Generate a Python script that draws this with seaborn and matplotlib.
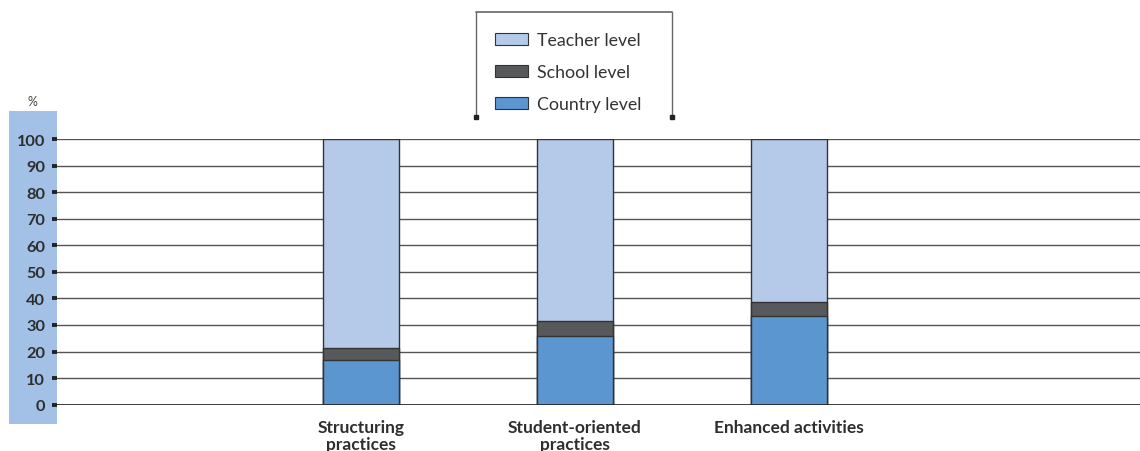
import matplotlib
matplotlib.use("Agg")
import matplotlib.pyplot as plt
from matplotlib.patches import Patch, Rectangle
from matplotlib.lines import Line2D
import seaborn as sns
import pandas as pd

categories = ["Structuring\npractices", "Student-oriented\npractices", "Enhanced activities"]
country_level = [16.8, 25.7, 33.3]
school_level = [4.4, 5.7, 5.2]
teacher_level = [78.8, 68.6, 61.5]
y_ticks = [0, 10, 20, 30, 40, 50, 60, 70, 80, 90, 100]

c_teacher = "#B5CAE8"
c_school = "#58595B"
c_country = "#5B96D0"
c_strip = "#A3C1E6"
c_text = "#2E2E2E"

sns.set_style("white")
plt.rcParams["font.family"] = ["Lato", "DejaVu Sans"]

W, H = 1140, 452
fig = plt.figure(figsize=(W / 100, H / 100), dpi=100)

# blue strip behind y tick labels
fig.patches.append(Rectangle((9 / W, 1 - 425 / H), 48 / W, 313 / H,
                             transform=fig.transFigure, facecolor=c_strip,
                             edgecolor="none", zorder=0))

ax = fig.add_axes([57 / W, 1 - 405.7 / H, 1 - 57 / W, (405.7 - 140) / H])
ax.set_zorder(2)

df = pd.DataFrame({
    "cat": categories,
    "country": country_level,
    "school": school_level,
    "teacher": teacher_level,
})
df["cs"] = df["country"] + df["school"]
df["total"] = df["cs"] + df["teacher"]

bw = 76 / 214
common = dict(x="cat", order=categories, width=bw, edgecolor="#333333",
              linewidth=1.0, ax=ax, zorder=3)
sns.barplot(data=df, y="total", color=c_teacher, saturation=1, **common)
sns.barplot(data=df, y="cs", color=c_school, saturation=1, **common)
sns.barplot(data=df, y="country", color=c_country, saturation=1, **common)

ax.set_xlim(-1.42, 3.64)
ax.set_ylim(0, 100)
ax.set_yticks(y_ticks)
ax.set_yticklabels([str(t) for t in y_ticks], fontsize=11.8, fontweight="bold", color=c_text)
ax.set_xlabel("")
ax.set_ylabel("")
for s in ax.spines.values():
    s.set_visible(False)
ax.yaxis.grid(True, color="#555555", linewidth=1.0, zorder=1)
ax.set_axisbelow(True)
ax.axhline(0, color="#222222", linewidth=1.2, zorder=4)
ax.tick_params(axis="y", which="major", left=True, length=3.5, width=2.8,
               color="#222222", pad=5)
ax.tick_params(axis="x", length=0, pad=10)
for lbl in ax.get_xticklabels():
    lbl.set_fontsize(12.5)
    lbl.set_fontweight("bold")
    lbl.set_color(c_text)
    lbl.set_linespacing(1.1)
    lbl.set_verticalalignment("top")

fig.text(32 / W, 1 - 102 / H, "%", fontsize=9, color="#444444", ha="center", va="center")

# legend
handles = [Patch(facecolor=c_teacher, edgecolor="#333333", linewidth=0.8, label="Teacher level"),
           Patch(facecolor=c_school, edgecolor="#333333", linewidth=0.8, label="School level"),
           Patch(facecolor=c_country, edgecolor="#333333", linewidth=0.8, label="Country level")]
leg = fig.legend(handles=handles, loc="upper left", bbox_to_anchor=(495 / W, 1 - 33 / H),
                 frameon=False, fontsize=12.8, handlelength=1.85, handleheight=0.7,
                 handletextpad=0.5, labelspacing=0.9, borderpad=0, borderaxespad=0)
for t in leg.get_texts():
    t.set_color("#333333")

lc = "#666666"
x0, x1 = 476 / W, 672 / W
yt, yb = 1 - 13 / H, 1 - 118 / H
fig.add_artist(Line2D([x0, x1], [yt, yt], transform=fig.transFigure, color=lc, lw=1.2))
fig.add_artist(Line2D([x0, x0], [yt, yb], transform=fig.transFigure, color=lc, lw=1.0))
fig.add_artist(Line2D([x1, x1], [yt, yb], transform=fig.transFigure, color=lc, lw=1.0))
fig.add_artist(Line2D([x0, x1], [yb, yb], transform=fig.transFigure, color="#222222",
                      lw=0, marker="s", markersize=3.5))

fig.savefig("out.png", dpi=100)
